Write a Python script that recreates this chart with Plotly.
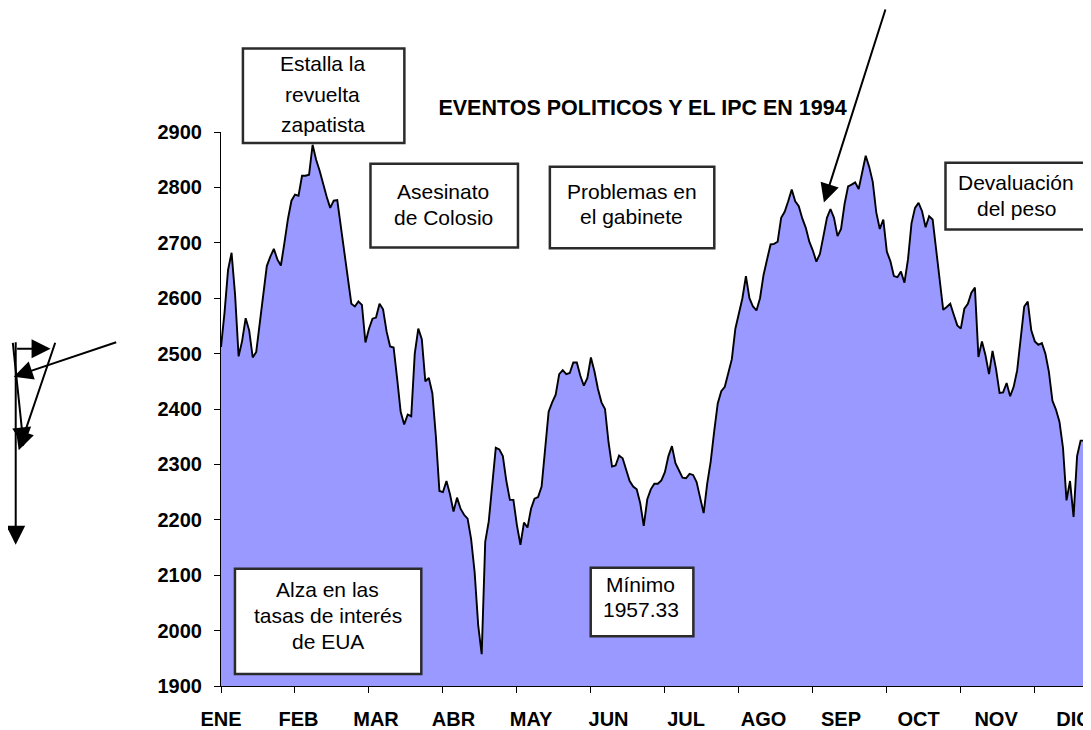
import plotly.graph_objects as go

# ---------------- data ----------------
months = ["ENE", "FEB", "MAR", "ABR", "MAY", "JUN", "JUL", "AGO", "SEP", "OCT", "NOV", "DIC"]
y_ticks = list(range(1900, 3000, 100))
LABEL_STEP = 22     # trading days between month labels
TICK_STEP = 21      # trading days between tick marks
VISIBLE_DAYS = 246.1

ipc = [
    2512, 2574, 2651, 2682, 2606, 2495, 2523, 2564, 2542, 2493,
    2503, 2557, 2610, 2658, 2675, 2689, 2670, 2659, 2700, 2743,
    2776, 2787, 2785, 2821, 2821, 2823, 2877, 2850, 2830, 2804,
    2783, 2763, 2776, 2777, 2730, 2690, 2645, 2590, 2585, 2594,
    2588, 2520, 2545, 2563, 2565, 2590, 2580, 2540, 2513, 2511,
    2455, 2395, 2372, 2390, 2387, 2500, 2545, 2526, 2450, 2456,
    2428, 2350, 2252, 2250, 2270, 2246, 2215, 2240, 2220, 2209,
    2202, 2165, 2105, 2010, 1957.33, 2160, 2197, 2270, 2330, 2327,
    2315, 2270, 2236, 2236, 2190, 2155, 2195, 2186, 2220, 2238,
    2241, 2260, 2335, 2395, 2412, 2426, 2463, 2470, 2463, 2465,
    2484, 2484, 2460, 2442, 2456, 2493, 2468, 2436, 2412, 2400,
    2340, 2296, 2298, 2316, 2311, 2288, 2270, 2260, 2255, 2230,
    2189, 2237, 2255, 2265, 2265, 2271, 2286, 2315, 2333, 2302,
    2289, 2276, 2275, 2283, 2281, 2268, 2240, 2212, 2265, 2305,
    2360, 2410, 2432, 2440, 2465, 2490, 2545, 2570, 2600, 2640,
    2600, 2585, 2578, 2600, 2642, 2670, 2697, 2698, 2702, 2745,
    2756, 2775, 2796, 2775, 2766, 2744, 2727, 2702, 2686, 2666,
    2680, 2712, 2745, 2761, 2745, 2712, 2725, 2770, 2802, 2805,
    2809, 2797, 2830, 2857, 2837, 2810, 2755, 2725, 2742, 2684,
    2667, 2640, 2638, 2648, 2628, 2670, 2735, 2763, 2772, 2757,
    2728, 2748, 2742, 2690, 2630, 2579, 2584, 2590, 2570, 2551,
    2545, 2581, 2590, 2610, 2619, 2494, 2522, 2497, 2463, 2505,
    2472, 2429, 2430, 2447, 2423, 2440, 2470, 2525, 2585, 2594,
    2542, 2522, 2516, 2519, 2500, 2467, 2415, 2399, 2377, 2330,
    2235, 2270, 2205, 2315, 2343, 2343, 2290, 2250,
]

title_text = "EVENTOS POLITICOS Y EL IPC EN 1994"
box_texts = [
    ["Estalla la", "revuelta", "zapatista"],
    ["Asesinato", "de Colosio"],
    ["Problemas en", "el gabinete"],
    ["Devaluación", "del peso"],
    ["Alza en las", "tasas de interés", "de EUA"],
    ["Mínimo", "%.2f" % min(ipc)],
]

# ---------------- layout geometry (screen pixels) ----------------
OFF = 8                      # default page margin of the html body
SW, SH = 1091, 730           # window size
W, H = SW - OFF, SH - OFF    # figure size
PLOT_L, PLOT_T, PLOT_B, PLOT_R = 221, 132, 689, 1091   # plot area in screen px
L = PLOT_L - OFF
T = PLOT_T - OFF
B = SH - PLOT_B
R = SW - PLOT_R
PW = PLOT_R - PLOT_L
PH = PLOT_B - PLOT_T


def px(X):
    return (X - PLOT_L) / PW


def py(Y):
    return (PLOT_B - Y) / PH


FONT = "Arial, Liberation Sans, sans-serif"

# box rectangles (x0, y0, x1, y1), text centre x, text line centres y
box_geom = [
    ((243, 48, 405, 143), 323, [63, 94, 124]),
    ((371, 164, 519, 248), 444, [192, 218]),
    ((551, 167, 716, 249), 633, [192, 217]),
    ((948, 163, 1110, 230), 1019, [183, 209]),
    ((235, 571, 422, 677), 328, [592, 618, 644]),
    ((592, 570, 695, 639), 642, [587, 612]),
]

# arrows: head (x, y), tail (x, y)
arrows = [
    ((15, 547), (15, 343)),
    ((50, 350), (15, 350)),
    ((23, 448), (12, 343)),
    ((18, 452), (55, 343)),
    ((13, 378), (117, 343)),
    ((826, 203), (888, 2)),
]

fig = go.Figure()
idx = list(range(len(ipc)))
fig.add_trace(go.Scatter(
    x=idx, y=ipc, mode="lines",
    line=dict(color="black", width=1.9),
    fill="tozeroy", fillcolor="#9999FF",
    hoverinfo="skip", showlegend=False,
))
fig.add_trace(go.Scatter(
    x=idx, y=ipc, xaxis="x2", mode="none",
    hoverinfo="skip", showlegend=False,
))

shapes = []
annotations = []
for (x0, y0, x1, y1), cx, ys in box_geom:
    shapes.append(dict(
        type="rect", xref="paper", yref="paper",
        x0=px(x0), x1=px(x1), y0=py(y1), y1=py(y0),
        line=dict(color="#2b2b2b", width=2.5), fillcolor="white", layer="above",
    ))
for ((x0, y0, x1, y1), cx, ys), lines in zip(box_geom, box_texts):
    for ly, txt in zip(ys, lines):
        annotations.append(dict(
            x=px(cx), y=py(ly), xref="paper", yref="paper",
            text=txt, showarrow=False, xanchor="center", yanchor="middle",
            font=dict(family=FONT, size=21, color="black"),
        ))

for (hx, hy), (tx, ty) in arrows:
    annotations.append(dict(
        x=px(hx), y=py(hy), xref="paper", yref="paper",
        ax=tx - hx, ay=ty - hy, axref="pixel", ayref="pixel",
        text="", showarrow=True, arrowhead=2, arrowsize=1.9,
        arrowwidth=2, arrowcolor="black", standoff=0, startstandoff=0,
    ))

fig.update_layout(
    width=W, height=H, autosize=False,
    margin=dict(l=L, r=R, t=T, b=B, pad=0),
    paper_bgcolor="white", plot_bgcolor="white",
    title=dict(
        text=title_text, x=px(644), xref="paper", xanchor="center",
        y=1 - (107 - OFF) / H, yref="container", yanchor="middle",
        font=dict(family=FONT, size=21.5, color="black", weight="bold"),
    ),
    xaxis=dict(
        range=[0, VISIBLE_DAYS],
        tickmode="array",
        tickvals=[i * LABEL_STEP for i in range(len(months))],
        ticktext=months, ticks="",
        showline=True, linecolor="black", linewidth=1.2,
        showgrid=False, zeroline=False,
        tickfont=dict(family=FONT, size=20, color="black", weight="bold"),
        ticklabelstandoff=15, ticklabeloverflow="allow",
    ),
    xaxis2=dict(
        range=[0, VISIBLE_DAYS], overlaying="x", anchor="y", side="bottom",
        tickmode="array",
        tickvals=list(range(0, len(ipc) + TICK_STEP, TICK_STEP)),
        ticks="outside", ticklen=6, tickwidth=1.2, tickcolor="black",
        showticklabels=False, showline=False, showgrid=False, zeroline=False,
    ),
    yaxis=dict(
        range=[y_ticks[0], y_ticks[-1]],
        tickmode="array", tickvals=y_ticks,
        ticks="outside", ticklen=6, tickwidth=1.2, tickcolor="black",
        showline=True, linecolor="black", linewidth=1.2,
        showgrid=False, zeroline=False,
        tickfont=dict(family=FONT, size=20, color="black", weight="bold"),
        ticklabelstandoff=8,
    ),
    shapes=shapes,
    annotations=annotations,
)

fig.write_html("out.html")
